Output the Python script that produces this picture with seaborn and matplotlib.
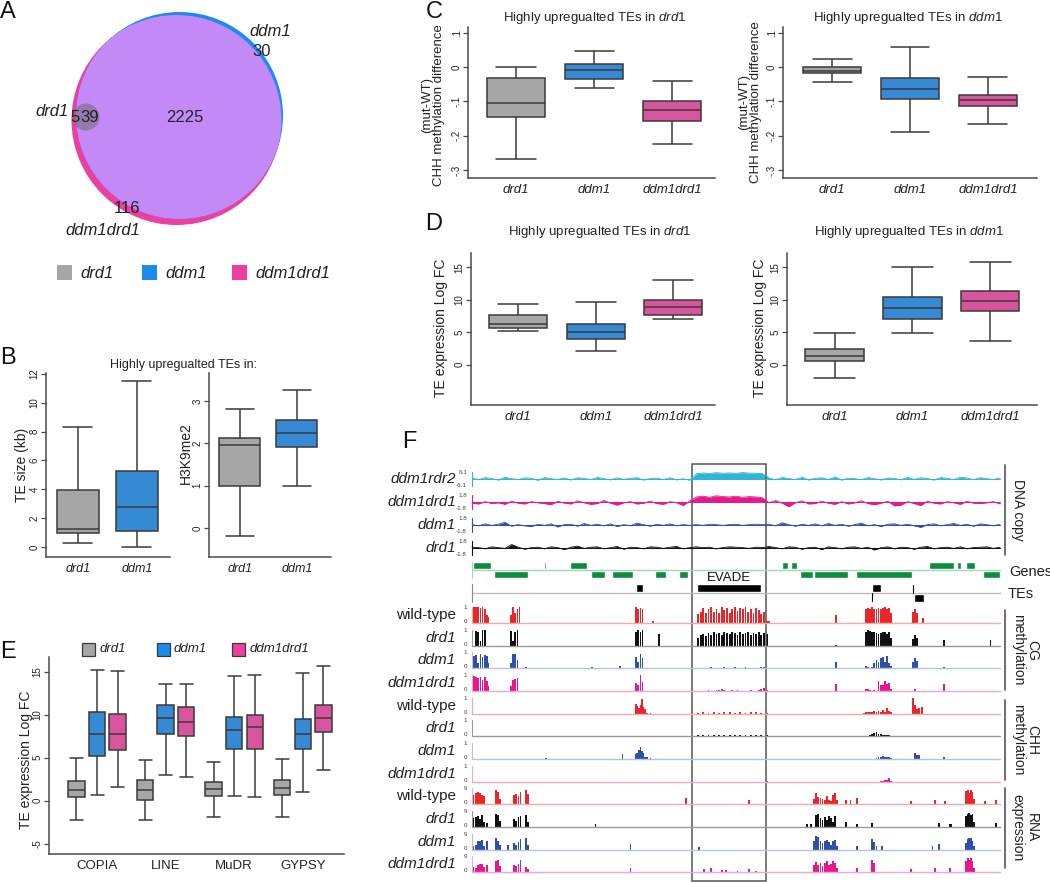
import numpy as np
import pandas as pd
import matplotlib
matplotlib.use("Agg")
import matplotlib.pyplot as plt
from matplotlib.patches import Circle, Rectangle
import seaborn as sns

sns.set_theme(style="white")
plt.rcParams["font.family"] = ["Liberation Sans", "DejaVu Sans"]
plt.rcParams["mathtext.fontset"] = "custom"
plt.rcParams["mathtext.rm"] = "Liberation Sans"
plt.rcParams["mathtext.it"] = "Liberation Sans:italic"

# ---------------- data ----------------
genotypes = ["drd1", "ddm1", "ddm1drd1"]
pal = {"drd1": "#a6a6a6", "ddm1": "#1b8ced", "ddm1drd1": "#ee3f9f"}

venn_counts = {"drd1_only": "5", "drd1_all": "39", "core": "2225", "ddm1_only": "30", "double_only": "116"}

# five-number summaries [min, q1, median, q3, max]
b_groups = ["drd1", "ddm1"]
b_size = [[0.3, 0.95, 1.25, 3.95, 8.3], [0.0, 1.15, 2.8, 5.3, 11.5]]
b_k9 = [[-0.2, 0.98, 1.95, 2.13, 2.8], [1.0, 1.92, 2.25, 2.55, 3.25]]
c_drd1 = [[-0.268, -0.145, -0.105, -0.032, 0.0], [-0.06, -0.035, -0.007, 0.01, 0.046],
          [-0.225, -0.158, -0.125, -0.1, -0.04]]
c_ddm1 = [[-0.043, -0.018, -0.01, -0.001, 0.023], [-0.188, -0.094, -0.064, -0.032, 0.06],
          [-0.165, -0.112, -0.095, -0.08, -0.028]]
d_drd1 = [[5.2, 5.7, 6.3, 7.7, 9.4], [2.1, 3.9, 5.0, 6.2, 9.6], [7.0, 7.6, 8.9, 10.0, 13.1]]
d_ddm1 = [[-2.0, 0.5, 1.4, 2.4, 4.9], [4.9, 7.1, 8.8, 10.4, 15.1], [3.7, 8.3, 9.8, 11.3, 15.8]]
te_classes = ["COPIA", "LINE", "MuDR", "GYPSY"]
e_drd1 = [[-2.3, 0.4, 1.25, 2.3, 5.0], [-2.3, 0.1, 1.25, 2.35, 4.7],
          [-1.95, 0.5, 1.3, 2.15, 4.45], [-1.95, 0.65, 1.45, 2.4, 4.9]]
e_ddm1 = [[0.7, 5.2, 7.7, 10.35, 15.15], [2.95, 7.8, 9.6, 11.15, 13.6],
          [0.5, 6.0, 8.2, 9.75, 14.5], [1.05, 6.05, 7.7, 9.55, 14.8]]
e_ddm1drd1 = [[1.6, 5.85, 7.8, 10.1, 15.05], [2.75, 7.55, 9.15, 10.85, 13.55],
              [0.4, 6.0, 8.6, 9.9, 14.65], [3.6, 8.0, 9.6, 11.1, 15.6]]

# ---- panel F: genome browser (positions in kb, 0-100) ----
cnv_labels = ["ddm1rdr2", "ddm1drd1", "ddm1", "drd1"]
cnv_limits = [6.1, 1.8, 1.8, 1.8]
cnv_ddm1rdr2 = [0.8, -0.6, 1.2, 0.4, -0.9, 1.5, 0.3, -0.5, 1.0, 0.6, -1.1, 1.3, 0.2, -0.4, 0.9, -0.8, 1.1, 0.5,
                -0.6, 1.4, 0.3, -0.7, 1.0, -0.3, 0.6, 1.2, -0.9, 0.4, 0.8, -0.5, 1.1, -0.7, 0.2, -1.0,
                4.6, 5.2, 4.8, 5.5, 5.0, 5.3, 4.9, 5.6, 5.1, 5.0, 4.7,
                0.9, -0.7, 1.4, 0.4, -0.5, 1.6, -0.9, 0.6, 1.1, -0.4, 1.8, -1.0, 0.7, 0.3, -0.6, 1.3, 0.2, -0.8,
                0.9, 0.5, -0.7, 1.5, -0.4, 1.1, 0.4, -0.9, 1.3, 0.6, -0.5, 1.6, 0.8, -0.6, 1.2, 0.3, -0.4, 0.9]
cnv_ddm1drd1 = [-0.3, -0.5, 0.1, -0.4, -0.2, -0.6, 0.2, -0.3, -0.5, 0.1, -0.2, -0.4, -0.7, 0.2, -0.3, -0.5, 0.3,
                -0.2, -0.6, -0.4, 0.4, -0.3, -0.8, -0.2, 0.1, -0.5, -0.3, 0.2, -0.4, -0.6, 0.1, -0.2, -0.9, 0.3,
                1.3, 1.5, 1.2, 1.6, 1.4, 1.3, 1.5, 1.2, 1.4, 1.3, 1.1,
                -0.2, 0.4, -0.3, -1.2, -0.2, 0.3, -0.5, -0.4, 0.2, -0.3, -0.6, 0.1, -0.5, -0.2, 0.3, -0.4, -0.7,
                -0.3, 0.2, -1.0, -0.8, 0.1, -0.4, -0.9, 0.2, -0.3, -0.5, 0.1, -0.2, -0.6, 0.2, -0.3, -0.4, -0.2,
                0.1, -0.5]
cnv_ddm1 = [0.1, -0.2, 0.3, -0.1, 0.2, 0.7, -0.3, 0.1, -0.2, -0.4, 0.2, -0.1, 0.3, -0.5, 0.1, 0.2, -0.3, 0.4,
            -0.1, 0.2, -0.2, 0.3, -0.4, 0.1, -0.2, 0.5, 0.1, -0.3, 0.2, -0.1, 0.3, -0.2, 0.1, -0.1,
            0.1, -0.1, 0.2, 0.1, -0.1, 0.1, 0.2, -0.1, 0.1, 0.2, 0.1,
            0.2, -0.2, 0.6, 0.1, -0.3, 0.2, -0.1, 0.3, -0.2, 0.4, -0.1, 0.2, -0.3, 0.1, 0.5, -0.2, 0.1, -0.4,
            0.2, 0.3, -0.1, 0.2, -0.2, -0.6, 0.1, 0.3, -0.2, 0.1, 0.4, -0.1, 0.2, -0.3, 0.3, 0.1, -0.2, 0.2]
cnv_drd1 = [0.2, 0.1, -0.2, 0.3, 0.1, -0.1, 0.9, 0.2, -0.3, 0.1, 0.2, -0.2, 0.3, 0.1, -0.4, 0.2, 0.5, -0.1,
            0.2, 0.3, -0.2, 0.1, 0.4, -0.3, 0.2, 0.1, -0.2, 0.3, 0.2, -0.1, 0.2, 0.4, -0.2, 0.1,
            0.3, 0.1, 0.2, -0.2, 0.1, 0.3, 0.2, 0.1, -0.1, 0.2, 0.1,
            0.4, 0.1, -0.2, 0.3, 0.2, -0.3, 0.1, 0.2, -0.4, 0.3, 0.1, -0.2, 0.2, 0.3, -0.1, 0.2, -0.5, 0.1,
            0.3, -0.2, 0.2, 0.1, -0.3, 0.2, 0.4, -0.2, 0.1, 0.2, -0.1, 0.3, -0.2, 0.1, 0.2, 0.3, -0.1, 0.2]

genes_top = [(0.2, 3.6), (13.6, 14.1), (18.6, 21.8), (58.7, 59.8), (60.4, 61.6), (86.6, 91.3),
             (91.9, 92.6), (93.6, 95.3)]
genes_bottom = [(4.2, 10.6), (22.5, 25.2), (26.5, 30.5), (34.7, 36.7), (39.2, 40.9), (62.1, 64.6),
                (64.8, 71.2), (72.7, 83.3), (96.8, 100.0)]
tes_top = [(31.1, 32.4), (42.6, 54.7), (75.8, 77.5)]
tes_bottom = [(83.7, 85.6)]

sample_labels = ["wild-type", "drd1", "ddm1", "ddm1drd1"]

cg_pos = [0.4, 0.8, 1.2, 1.6, 2.0, 2.4, 2.8, 3.1,
          7.4, 7.8, 8.2, 8.6, 9.0,
          10.3, 14.0, 18.6, 22.7, 28.0,
          31.1, 31.5, 31.9, 32.3,
          34.3, 35.4,
          42.8, 43.3, 43.8, 44.3, 44.8, 45.3, 45.8, 46.3, 46.8, 47.3, 47.8, 48.3, 48.8, 49.3,
          49.8, 50.3, 50.8, 51.3, 51.8, 52.3, 52.8, 53.3, 53.8, 54.3, 54.8, 55.3, 55.8, 56.3,
          61.0, 68.9,
          74.6, 75.0, 75.4, 75.8, 76.2, 76.6, 77.0, 77.4, 77.8, 78.2, 78.6, 79.0, 79.4,
          83.5, 83.9, 84.3, 85.4,
          89.4, 93.0, 98.2]
cg_wt = [1.0, 1.0, 1.0, 0.95, 1.0, 0.9, 0.5, 0.4,
         0.5, 1.0, 0.6, 0.85, 1.0,
         0, 0.03, 0.02, 0.03, 0,
         1.0, 0.9, 0.95, 0.85,
         0.12, 0,
         0.55, 0.7, 0.95, 0.6, 0.85, 1.0, 0.7, 0.9, 0.65, 1.0, 0.8, 0.95, 0.6, 0.9,
         1.0, 0.75, 0.95, 0.85, 1.0, 0.7, 0.9, 0.6, 0.95, 0.8, 0.55, 0.7, 0.15, 0.1,
         0.03, 0.5,
         0.9, 0.95, 0.9, 1.0, 0.9, 0.88, 0.92, 0.9, 0.95, 1.0, 0.85, 0.95, 0.6,
         0.7, 0.85, 0.6, 0.3,
         0, 0, 0]
cg_drd1 = [0, 0.95, 0.9, 0.3, 1.0, 1.0, 0, 0,
           0.95, 0.3, 0.9, 1.0, 0,
           0, 0, 0, 0, 0,
           0.85, 1.0, 0.9, 1.0,
           0, 0.75,
           0.5, 0.7, 0.75, 0.65, 0.8, 0.7, 0.85, 0.75, 0.8, 0.7, 0.85, 0.8, 0.75, 0.85,
           0.8, 0.7, 0.85, 0.75, 0.8, 0.85, 0.7, 0.8, 0.75, 0.85, 0.7, 0.8, 0.75, 0,
           0, 0.08,
           0.9, 1.0, 0.95, 0.9, 0.85, 0.8, 0.75, 0.8, 0.85, 0.9, 0.75, 0.9, 0.5,
           0.45, 0.7, 0.5, 0,
           0.4, 0, 0.35]
cg_ddm1 = [0.75, 0.8, 0.3, 0.85, 0.7, 0.8, 0.75, 0.3,
           0.3, 0.85, 0.9, 0.5, 0,
           0.05, 0.03, 0.02, 0.04, 0.1,
           0.7, 0.4, 0.85, 0.6,
           0, 0,
           0.02, 0, 0.03, 0, 0.02, 0.05, 0, 0.02, 0.03, 0, 0.06, 0.02, 0, 0.03,
           0.08, 0.03, 0, 0.02, 0.04, 0, 0.02, 0.03, 0, 0.02, 0.05, 0.08, 0, 0,
           0.02, 0.4,
           0.15, 0.08, 0, 0.05, 0.3, 0.5, 0.35, 0.65, 0.7, 0.4, 0.75, 0.3, 0.1,
           0.4, 0.65, 0.45, 0,
           0.05, 0, 0.02]
cg_ddm1drd1 = [0.95, 0.9, 0.8, 0.85, 0.7, 0.85, 0.6, 0.3,
               0.3, 0.7, 0.75, 0.8, 0,
               0, 0, 0, 0, 0,
               0.5, 0.4, 1.0, 0.55,
               0, 0,
               0, 0.02, 0, 0.03, 0.04, 0, 0.02, 0.05, 0.08, 0.12, 0.06, 0.03, 0, 0.04,
               0.02, 0.06, 0.03, 0, 0.02, 0.03, 0.05, 0, 0.02, 0.08, 0.15, 0.2, 0.05, 0,
               0, 0.45,
               0.15, 0.1, 0.05, 0, 0.05, 0, 0.6, 0.35, 0.4, 0.65, 0.45, 0.5, 0.1,
               0, 0.15, 0, 0,
               0.45, 0, 0]

chh_pos = [14.0, 18.0, 26.5, 28.5,
           31.0, 31.3, 31.6, 31.9, 32.2, 32.5, 32.8, 33.2, 33.8,
           42.8, 43.8, 44.8, 45.8, 46.8, 47.8, 48.8, 49.8, 50.8, 51.8, 52.8, 53.8, 54.8, 55.8,
           74.2, 74.6, 75.0, 75.4, 75.8, 76.2, 76.6, 77.0, 77.4, 77.8, 78.2, 78.6, 79.0, 79.4,
           83.5, 83.9, 84.3, 84.7, 85.2,
           89.4, 91.0]
chh_wt = [0, 0, 0.02, 0,
          0.6, 0.5, 0.4, 0.55, 0.95, 0.45, 0.3, 0.05, 0.05,
          0.08, 0.1, 0.06, 0.12, 0.08, 0.1, 0.15, 0.09, 0.12, 0.07, 0.1, 0.14, 0.08, 0.06,
          0.08, 0.12, 0.1, 0.15, 0.12, 0.18, 0.1, 0.2, 0.15, 0.25, 0.12, 0.35, 0.2, 0.1,
          1.0, 0.55, 0.3, 0.4, 0.45,
          0, 0]
chh_drd1 = [0, 0, 0, 0,
            0, 0, 0, 0, 0, 0, 0, 0, 0,
            0.04, 0.05, 0.06, 0.05, 0.07, 0.05, 0.06, 0.08, 0.06, 0.05, 0.07, 0.06, 0.05, 0.04,
            0, 0, 0, 0.05, 0.12, 0.2, 0.25, 0.15, 0.12, 0.08, 0.06, 0.05, 0.04, 0,
            0, 0, 0, 0, 0,
            0.03, 0]
chh_ddm1 = [0.04, 0.03, 0.03, 0.3,
            0.3, 0.4, 0.55, 0.75, 0.5, 0.35, 0.15, 0.1, 0.05,
            0, 0, 0.02, 0, 0, 0.02, 0, 0, 0.02, 0, 0, 0.02, 0, 0,
            0, 0, 0, 0, 0, 0.03, 0.08, 0.1, 0.15, 0.18, 0.12, 0.15, 0.1, 0.05,
            0, 0.35, 0.25, 0.25, 0,
            0.1, 0]
chh_ddm1drd1 = [0, 0, 0.02, 0,
                0, 0, 0, 0.02, 0, 0, 0, 0, 0,
                0, 0, 0, 0, 0, 0, 0, 0, 0, 0, 0, 0, 0, 0.05,
                0, 0, 0, 0, 0, 0, 0, 0, 0.05, 0.08, 0.1, 0.12, 0.25, 0.08,
                0, 0, 0, 0, 0,
                0, 0]

rna_pos = [0.3, 0.7, 1.1, 1.5, 1.9, 2.3, 2.8,
           4.5, 4.9, 5.3,
           6.8,
           8.0, 8.4, 8.8, 9.2,
           10.2, 10.6,
           23.4, 30.0, 40.5,
           43.0, 44.0, 45.3, 47.4, 48.1, 50.3, 52.4, 53.8,
           63.5, 64.2, 64.8, 65.2, 65.6, 66.0, 66.4, 66.8, 67.2, 67.6, 68.0, 68.4, 68.8, 69.2,
           70.9, 71.7, 72.9,
           75.8, 76.2, 76.6, 77.6,
           83.1, 87.2, 87.7, 88.4, 89.6, 90.5, 90.8,
           93.6, 93.9, 94.2, 94.5, 94.8, 95.1,
           97.1, 99.3]
rna_wt = [5, 6, 7, 6.4, 5, 4.4, 0,
          8, 7, 3,
          0,
          5, 5.6, 4.6, 7,
          8, 5.6,
          0, 0, 3.5,
          0, 0, 0, 0, 0, 0, 2, 0,
          0, 0, 3, 6, 4, 3.5, 3, 2.5, 4.5, 2, 1.5, 5, 6, 2,
          2, 2, 3.5,
          0, 0, 0, 0,
          1.5, 0, 2, 0, 1.5, 0, 0,
          7.5, 8, 6, 8, 7, 3,
          1.5, 2]
rna_drd1 = [5, 5.5, 6, 4.5, 6.5, 3, 2,
            7.5, 6.5, 3.5,
            0,
            4.5, 3.5, 5.5, 6,
            6.5, 3,
            1.5, 0, 0,
            0, 0, 0, 0, 0, 0, 0, 0,
            1.5, 1.5, 0, 6.5, 7.5, 5, 4, 5.5, 4, 6, 5, 3, 6, 0,
            3, 0, 1.5,
            2, 0, 0, 0,
            0, 0, 0, 2.5, 0, 1.5, 1.5,
            6, 7.5, 8, 7, 7.5, 3,
            0, 2]
rna_ddm1 = [2, 3, 5, 5, 5.5, 2, 5,
            7, 5, 3,
            3,
            4, 3, 4.5, 6,
            7, 3,
            0, 3.5, 0,
            1.5, 0, 0, 0, 0, 0, 0, 0,
            0, 0, 5, 8, 7.5, 5, 4, 5, 5.5, 4.5, 3, 5, 5.5, 2,
            0, 0, 2.5,
            6, 4.5, 2, 2,
            0, 2, 0, 3.5, 0, 0, 0,
            4, 6, 6.5, 7, 5, 2.5,
            0, 0]
rna_ddm1drd1 = [3, 2.5, 4, 4.5, 4.5, 3, 4,
                6, 7, 3.5,
                0,
                4, 3.5, 4.5, 7,
                3, 1.5,
                0, 2.5, 0,
                0, 1.5, 2, 1, 1, 0.7, 1.5, 0.5,
                0, 0, 4, 5.5, 4, 5, 3.5, 5, 6, 4, 4.5, 6, 5, 2,
                0, 0, 2.5,
                7, 5, 0, 0,
                1.5, 0, 2.5, 0, 0, 2.5, 0,
                6, 8, 7, 8, 6, 2.5,
                0, 0]

# ---------------- helpers ----------------
W, H = 1050, 883
fig = plt.figure(figsize=(W / 100, H / 100), dpi=100)
TXT = "#222222"
EDGE = "#3a3a3a"


def add_ax(l, t, r, b):
    return fig.add_axes([l / W, 1 - b / H, (r - l) / W, (b - t) / H])


def ftext(x, y, s, **kw):
    kw.setdefault("color", TXT)
    return fig.text(x / W, 1 - y / H, s, **kw)


def frame(groups, stats):
    rows = []
    for g, s in zip(groups, stats):
        for v in s:
            rows.append({"g": g, "v": v})
    return pd.DataFrame(rows)


def box(ax, groups, stats, width, capw):
    df = frame(groups, stats)
    sns.boxplot(data=df, x="g", y="v", hue="g", order=groups, hue_order=groups, palette=pal,
                width=width, whis=(0, 100), linecolor=EDGE, linewidth=1.1, legend=False,
                ax=ax, capwidths=capw)


def style(ax, xlim, ylim, yticks, ylabels, italic=True, xfs=9.5):
    ax.set_xlim(*xlim)
    ax.set_ylim(*ylim)
    ax.set_yticks(yticks)
    ax.set_yticklabels(ylabels, rotation=90, va="center", fontsize=7, color=TXT)
    ax.set_xlabel("")
    ax.set_ylabel("")
    for s in ["top", "right"]:
        ax.spines[s].set_visible(False)
    for s in ["left", "bottom"]:
        ax.spines[s].set_color("#4a4a4a")
        ax.spines[s].set_linewidth(1.1)
    ax.tick_params(axis="y", left=True, length=3.5, width=0.9, color="#4a4a4a", pad=1)
    ax.tick_params(axis="x", bottom=False, length=0, pad=4)
    for t in ax.get_xticklabels():
        t.set_fontsize(xfs)
        t.set_color(TXT)
        if italic:
            t.set_fontstyle("italic")
    ax.grid(False)


# ---------------- panel letters ----------------
for letter, (x, y) in {"A": (8, 12), "B": (8, 358), "C": (434, 12), "D": (434, 224),
                       "E": (8, 652), "F": (409, 442)}.items():
    ftext(x, y, letter, fontsize=17, ha="center", va="center", color="#111111")

# ---------------- A: Venn ----------------
axA = add_ax(0, 0, 350, 300)
axA.set_xlim(0, 350)
axA.set_ylim(300, 0)
axA.axis("off")
pink_c = Circle((176.5, 120), 105, fc=pal["ddm1drd1"], ec="none")
blue_c = Circle((179.5, 115.5), 103.5, fc=pal["ddm1"], ec="none")
axA.add_patch(pink_c)
axA.add_patch(blue_c)
purple = Circle((176.5, 120), 105, fc="#c389f7", ec="none")
axA.add_patch(purple)
purple.set_clip_path(blue_c)
axA.add_patch(Circle((86, 117), 13.5, fc="#6f6f6f", ec="none", alpha=0.55))
axA.text(270, 32, "ddm1", fontsize=12, style="italic", ha="center", va="center", color=TXT)
axA.text(262, 52, venn_counts["ddm1_only"], fontsize=12, ha="center", va="center", color=TXT)
axA.text(69, 112, "drd1", fontsize=12, style="italic", ha="right", va="center", color=TXT)
axA.text(75, 117, venn_counts["drd1_only"], fontsize=12, ha="center", va="center", color=TXT)
axA.text(90, 118, venn_counts["drd1_all"], fontsize=12, ha="center", va="center", color=TXT)
axA.text(185, 117, venn_counts["core"], fontsize=12, ha="center", va="center", color=TXT)
axA.text(127, 208, venn_counts["double_only"], fontsize=12, ha="center", va="center", color=TXT)
axA.text(103, 230, "ddm1drd1", fontsize=12, style="italic", ha="center", va="center", color=TXT)
for g, xs, xt in zip(genotypes, [57, 142, 232], [80, 165, 255]):
    axA.add_patch(Rectangle((xs, 265), 15, 15, fc=pal[g], ec="none"))
    axA.text(xt, 273, g, fontsize=12, style="italic", ha="left", va="center", color=TXT)

# ---------------- B ----------------
ftext(184, 365, "Highly upregualted TEs in:", fontsize=9, ha="center", va="center")
axB1 = add_ax(46, 373, 170, 557)
box(axB1, b_groups, b_size, 0.72, 0.49)
style(axB1, (-0.54, 1.56), (-0.68, 12.05), [0, 2, 4, 6, 8, 10, 12], ["0", "2", "4", "6", "8", "10", "12"], xfs=9)
ftext(22, 465, "TE size (kb)", fontsize=10, rotation=90, ha="center", va="center")
axB2 = add_ax(209, 373, 331, 557)
box(axB2, b_groups, b_k9, 0.72, 0.49)
style(axB2, (-0.54, 1.6), (-0.69, 3.66), [0, 1, 2, 3], ["0", "1", "2", "3"], xfs=9)
ftext(186, 453, "H3K9me2", fontsize=10, rotation=90, ha="center", va="center")

# ---------------- C ----------------
c_ticks = [0.1, 0.0, -0.1, -0.2, -0.3]
c_labels = [".1", "0", "-.1", "-.2", "-.3"]
axC1 = add_ax(468, 27, 715, 178)
box(axC1, genotypes, c_drd1, 0.75, 0.5)
style(axC1, (-0.615, 2.55), (-0.323, 0.117), c_ticks, c_labels)
axC2 = add_ax(783, 27, 1037, 178)
box(axC2, genotypes, c_ddm1, 0.75, 0.5)
style(axC2, (-0.63, 2.63), (-0.323, 0.117), c_ticks, c_labels)
ftext(595, 18, r"Highly upregualted TEs in $\mathit{drd1}$", fontsize=9.5, ha="center", va="center")
ftext(908, 18, r"Highly upregualted TEs in $\mathit{ddm1}$", fontsize=9.5, ha="center", va="center")
ftext(433, 105, "(mut-WT)\nCHH methylation difference", fontsize=9.5, rotation=90,
      ha="center", va="center", multialignment="center", linespacing=1.0)
ftext(750, 102, "(mut-WT)\nCHH methylation difference", fontsize=9.5, rotation=90,
      ha="center", va="center", multialignment="center", linespacing=1.0)

# ---------------- D ----------------
axD1 = add_ax(471, 253, 715, 405)
box(axD1, genotypes, d_drd1, 0.75, 0.52)
style(axD1, (-0.61, 2.54), (-6.2, 17.2), [0, 5, 10, 15], ["0", "5", "10", "15"])
axD2 = add_ax(787, 253, 1037, 405)
box(axD2, genotypes, d_ddm1, 0.75, 0.52)
style(axD2, (-0.61, 2.6), (-6.2, 17.2), [0, 5, 10, 15], ["0", "5", "10", "15"])
ftext(600, 232, r"Highly upregualted TEs in $\mathit{drd1}$", fontsize=9.5, ha="center", va="center")
ftext(909, 232, r"Highly upregualted TEs in $\mathit{ddm1}$", fontsize=9.5, ha="center", va="center")
ftext(441, 328, "TE expression Log FC", fontsize=10, rotation=90, ha="center", va="center")
ftext(760, 328, "TE expression Log FC", fontsize=10, rotation=90, ha="center", va="center")

# ---------------- E ----------------
rows = []
for gi, g in enumerate(genotypes):
    src = [e_drd1, e_ddm1, e_ddm1drd1][gi]
    for te, s in zip(te_classes, src):
        for v in s:
            rows.append({"te": te, "g": g, "v": v})
dfE = pd.DataFrame(rows)
axE = add_ax(49, 657, 344, 854)
sns.boxplot(data=dfE, x="te", y="v", hue="g", order=te_classes, hue_order=genotypes, palette=pal,
            width=0.9, gap=0.2, whis=(0, 100), linecolor=EDGE, linewidth=1.1, legend=False,
            ax=axE, capwidths=0.19)
style(axE, (-0.7, 3.6), (-6.2, 16.7), [-5, 0, 5, 10, 15], ["-5", "0", "5", "10", "15"],
      italic=False, xfs=9.5)
ftext(26, 760, "TE expression Log FC", fontsize=10, rotation=90, ha="center", va="center")
for g, xs, xt in zip(genotypes, [82, 157, 232], [100, 174, 250]):
    fig.add_artist(Rectangle((xs / W, 1 - 656 / H), 13 / W, 13 / H, fc=pal[g], ec=EDGE, lw=0.9,
                             transform=fig.transFigure))
    ftext(xt, 649, g, fontsize=9.5, style="italic", ha="left", va="center")

# ---------------- F: genome browser ----------------
def K(px):
    return (px - 472) / 5.28


axF = add_ax(380, 455, 1050, 883)
axF.set_xlim(K(380), K(1050))
axF.set_ylim(883, 455)
axF.axis("off")

cnv_colors = ["#2fb5d6", "#e6198c", "#2f4fa8", "#111111"]
cnv_centers = [479, 502, 525, 548]
for lab, vals, lim, col, yc in zip(cnv_labels, [cnv_ddm1rdr2, cnv_ddm1drd1, cnv_ddm1, cnv_drd1],
                                   cnv_limits, cnv_colors, cnv_centers):
    x = np.arange(len(vals)) * 1.25
    v = np.asarray(vals) / lim * 7
    axF.plot([0, 100], [yc, yc], color=col, lw=0.7)
    axF.fill_between(x, yc, yc - v, color=col, lw=0)
    axF.plot(x, yc - v, color=col, lw=0.6)
    axF.plot([0, 0], [yc - 7, yc + 7], color=col, lw=0.8)
    axF.text(K(467), yc - 6, f"{lim}", fontsize=4.5, ha="right", va="center", color="#444")
    axF.text(K(467), yc + 6.5, f"-{lim}", fontsize=4.5, ha="right", va="center", color="#444")
    axF.text(K(456), yc, lab, fontsize=11, style="italic", ha="right", va="center", color=TXT)

# genes
axF.plot([0, 100], [570, 570], color="#9fd9bd", lw=1.0)
axF.plot([0, 0], [562, 578], color="#9fd9bd", lw=0.8)
axF.broken_barh([(s, e - s) for s, e in genes_top], (562, 7.5), facecolors="#108a3e")
axF.broken_barh([(s, e - s) for s, e in genes_bottom], (571, 7.5), facecolors="#108a3e")
# TEs
axF.plot([0, 100], [593, 593], color="#bdbdbd", lw=1.0)
axF.plot([0, 0], [584, 602], color="#888888", lw=0.8)
axF.broken_barh([(s, e - s) for s, e in tes_top], (584.5, 8), facecolors="#000000")
axF.broken_barh([(s, e - s) for s, e in tes_bottom], (594, 8), facecolors="#000000")
axF.plot([83.5, 83.5], [585, 593], color="#000", lw=0.8)
axF.plot([75.8, 75.8], [593, 601], color="#000", lw=0.8)
axF.text(48.6, 578, "EVADE", fontsize=9.5, ha="center", va="center", color="#111")

track_colors = ["#e8262b", "#111111", "#2f4fa8", "#e6198c"]
base_colors = ["#f6a9a9", "#9a9a9a", "#b5c2e8", "#f4a6d1"]
assays = [
    (cg_pos, [cg_wt, cg_drd1, cg_ddm1, cg_ddm1drd1], 1, [623, 646, 668, 691]),
    (chh_pos, [chh_wt, chh_drd1, chh_ddm1, chh_ddm1drd1], 1, [714, 736, 759, 782]),
    (rna_pos, [rna_wt, rna_drd1, rna_ddm1, rna_ddm1drd1], 9, [804, 827, 850, 872]),
]
for pos, tracks, vmax, bases in assays:
    for lab, vals, col, bcol, base in zip(sample_labels, tracks, track_colors, base_colors, bases):
        axF.plot([0, 100], [base, base], color=bcol, lw=1.0)
        axF.plot([0, 0], [base, base - 16], color=bcol, lw=0.8)
        h = np.asarray(vals, dtype=float) / vmax * 16
        axF.bar(pos, -h, bottom=base, width=0.34, color=col, lw=0)
        axF.text(K(467), base - 15, f"{vmax}", fontsize=4.5, ha="right", va="center", color="#444")
        axF.text(K(467), base - 1, "0", fontsize=4.5, ha="right", va="center", color="#444")
        axF.text(K(456), base - 8, lab, fontsize=11, style="normal" if lab == "wild-type" else "italic",
                 ha="right", va="center", color=TXT)

# highlight box
axF.add_patch(Rectangle((K(692), 464), K(766) - K(692), 881 - 464, fill=False, ec="#555555", lw=1.1))

# right-side annotations
for y0, y1 in [(465, 555), (610, 690), (700, 780), (788, 868)]:
    axF.plot([K(1005), K(1005)], [y0, y1], color="#555555", lw=1.2, clip_on=False)
axF.text(K(1018), 510, "DNA copy", fontsize=10, rotation=270, ha="center", va="center", color=TXT)
axF.text(K(1009), 572, "Genes", fontsize=10.5, ha="left", va="center", color=TXT)
axF.text(K(1008), 594, "TEs", fontsize=10.5, ha="left", va="center", color=TXT)
for txt, yc in [("CG\nmethylation", 650), ("CHH\nmethylation", 740), ("RNA\nexpression", 828)]:
    axF.text(K(1025), yc, txt, fontsize=10, rotation=270, ha="center", va="center",
             multialignment="center", linespacing=1.05, color=TXT)

fig.savefig("out.png", dpi=100)
